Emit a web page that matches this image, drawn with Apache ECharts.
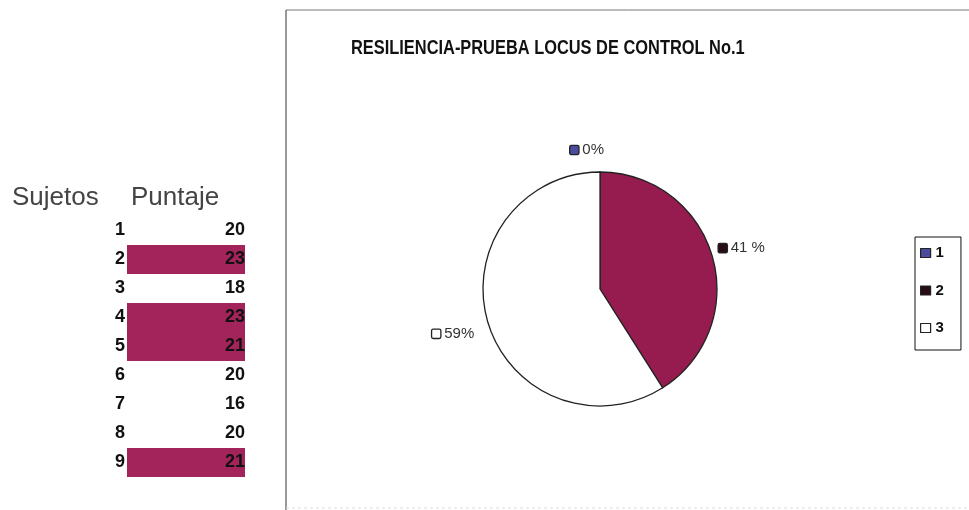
<!DOCTYPE html>
<html><head><meta charset="utf-8">
<script src="https://cdn.jsdelivr.net/npm/echarts@6/dist/echarts.min.js"></script>
<style>html,body{margin:0;padding:0;background:#fff}#c{width:969px;height:510px}</style>
</head><body><div id="c"></div>
<script>
const titleText = 'RESILIENCIA-PRUEBA LOCUS DE CONTROL No.1';
const headerSubjects = 'Sujetos';
const headerScores = 'Puntaje';
const subjects = ['1','2','3','4','5','6','7','8','9'];
const scores = [20, 23, 18, 23, 21, 20, 16, 20, 21];
const highlighted = [0, 1, 0, 1, 1, 0, 0, 0, 1];
const pieCategories = ['1', '2', '3'];
const pieValues = [0, 41, 59];

const sliceColors = ['#4b4b9e', '#961c4f', '#ffffff'];
const markerColors = ['#4b4b9e', '#2a0c18', '#ffffff'];
const labelNudge = [[9, -7], [-13, -4], [6, 8]];

const chart = echarts.init(document.getElementById('c'), null, {renderer: 'canvas'});
const rich = {};
markerColors.forEach((c, i) => {
  rich['m' + i] = {width: 8, height: 8, backgroundColor: c, borderColor: '#222', borderWidth: 1.3, borderRadius: 1};
});
rich.t = {fontSize: 15, color: '#333', fontFamily: "'Liberation Sans',Arial,sans-serif", padding: [0, 0, 0, 4]};

chart.setOption({
  backgroundColor: '#fff',
  animation: false,
  title: [
    {text: headerSubjects, left: 12, top: 185, padding: 0,
     textStyle: {fontSize: 26, fontWeight: 'normal', color: '#444', fontFamily: "'Liberation Sans',Arial,sans-serif"}},
    {text: headerScores, left: 131, top: 185, padding: 0,
     textStyle: {fontSize: 26, fontWeight: 'normal', color: '#444', fontFamily: "'Liberation Sans',Arial,sans-serif"}}
  ],
  legend: {
    orient: 'vertical', left: 915, top: 237,
    padding: [8, 17, 14, 5], itemGap: 21.5,
    itemWidth: 10, itemHeight: 9, icon: 'rect',
    borderColor: '#111', borderWidth: 1,
    itemStyle: {borderColor: '#222', borderWidth: 1.2},
    textStyle: {fontSize: 15, fontWeight: 'bold', color: '#111', lineHeight: 16, fontFamily: "'Liberation Sans',Arial,sans-serif"},
    data: pieCategories.map((n, i) => ({name: n, itemStyle: {color: markerColors[i]}}))
  },
  grid: {left: 127, right: 969 - 245, top: 216, height: 261},
  xAxis: {type: 'value', min: 0, max: 1, show: false},
  yAxis: [
    {type: 'category', data: subjects, inverse: true, z: 10,
     axisLine: {show: false}, axisTick: {show: false}, splitLine: {show: false},
     axisLabel: {margin: 2, fontSize: 18, fontWeight: 'bold', color: '#111', fontFamily: "'Liberation Sans',Arial,sans-serif"}},
    {type: 'category', data: subjects, inverse: true, position: 'right', z: 10,
     axisLine: {show: false}, axisTick: {show: false}, splitLine: {show: false},
     axisLabel: {inside: true, margin: 0, fontSize: 18, fontWeight: 'bold', color: '#111', fontFamily: "'Liberation Sans',Arial,sans-serif",
       formatter: (v, i) => String(scores[i])}}
  ],
  series: [
    {type: 'bar', yAxisIndex: 0, barCategoryGap: '0%', silent: true,
     itemStyle: {color: '#a3235b'},
     data: highlighted.map(h => h ? 1 : '-')},
    {type: 'pie', center: [600, 289], radius: 117, startAngle: 90, clockwise: true,
     avoidLabelOverlap: false,
     itemStyle: {borderColor: '#222', borderWidth: 1.3},
     label: {show: true, position: 'outside', distanceToLabelLine: 5, rich: rich,
       formatter: p => '{m' + p.dataIndex + '|}{t|' + (p.dataIndex === 1 ? p.percent + ' %' : p.percent + '%') + '}'},
     labelLine: {show: false, length: 15, length2: 0},
     labelLayout: p => ({dx: labelNudge[p.dataIndex][0], dy: labelNudge[p.dataIndex][1]}),
     emphasis: {disabled: true},
     data: pieCategories.map((n, i) => ({name: n, value: pieValues[i], itemStyle: {color: sliceColors[i]}}))}
  ],
  graphic: [
    {type: 'text', x: 351, y: 48, scaleX: 0.82, z: 10,
     style: {text: titleText, fill: '#111', font: "bold 20px 'Liberation Sans', Arial, sans-serif", verticalAlign: 'middle', align: 'left'}},
    {type: 'line', shape: {x1: 286, y1: 10, x2: 969, y2: 10}, style: {stroke: '#777', lineWidth: 1}},
    {type: 'line', shape: {x1: 286, y1: 10, x2: 286, y2: 510}, style: {stroke: '#555', lineWidth: 1.2}},
    {type: 'line', shape: {x1: 286, y1: 508, x2: 969, y2: 508}, style: {stroke: '#ddd', lineWidth: 1, lineDash: [3, 3]}}
  ]
});
</script></body></html>
